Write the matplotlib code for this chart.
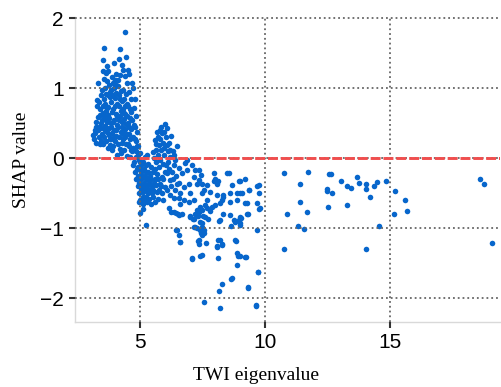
import matplotlib
matplotlib.use("Agg")
import matplotlib.pyplot as plt
import numpy as np

# (TWI eigenvalue, SHAP value) pairs, grouped by region
cluster_low = [
    (3.12, 0.33), (3.15, 0.28), (3.18, 0.40), (3.20, 0.36), (3.22, 0.45), (3.25, 0.52),
    (3.28, 0.84), (3.30, 0.40), (3.31, 0.59), (3.26, 0.75), (3.24, 0.22), (3.35, 0.30),
    (3.38, 0.62), (3.40, 0.70), (3.42, 0.50), (3.44, 0.43), (3.46, 0.98), (3.48, 0.35),
    (3.45, 0.25), (3.40, 0.20), (3.36, 0.80), (3.50, 1.25), (3.47, 0.55), (3.33, 1.07),
    (3.42, 0.90), (3.55, 1.58), (3.53, 1.41), (3.66, 1.32), (3.55, 1.14), (3.58, 1.00),
    (3.62, 0.92), (3.56, 0.85), (3.60, 0.78), (3.64, 0.68), (3.57, 0.60), (3.68, 0.52),
    (3.60, 0.46), (3.52, 0.21), (3.66, 0.38), (3.54, 0.30), (3.70, 0.15), (3.63, 1.22),
    (3.69, 0.72), (3.52, 0.65), (3.59, 0.40), (3.71, 1.25), (3.86, 1.16), (3.75, 1.05),
    (3.80, 0.95), (3.78, 0.88), (3.84, 0.80), (3.72, 0.74), (3.88, 0.66), (3.76, 0.58),
    (3.82, 0.50), (3.74, 0.44), (3.86, 0.36), (3.80, 0.19), (3.78, 0.28), (3.88, 0.12),
    (3.73, 0.62), (3.83, 0.98), (3.85, 0.45), (3.77, 0.33), (3.96, 1.36), (3.92, 1.07),
    (4.02, 1.20), (3.95, 1.00), (4.05, 0.93), (3.98, 0.86), (4.08, 0.78), (3.93, 0.70),
    (4.03, 0.64), (3.97, 0.55), (4.07, 0.48), (3.94, 0.40), (4.04, 0.32), (4.00, 0.25),
    (3.91, 0.17), (4.06, 0.05), (4.00, 1.12), (4.09, 0.60), (3.99, 0.75), (4.20, 1.56),
    (4.17, 1.42), (4.20, 1.19), (4.13, 1.12), (4.26, 1.33), (4.12, 1.03), (4.22, 0.96),
    (4.16, 0.90), (4.28, 0.82), (4.14, 0.75), (4.24, 0.68), (4.18, 0.60), (4.29, 0.52),
    (4.11, 0.45), (4.23, 0.38), (4.15, 0.30), (4.27, 0.22), (4.19, 0.14), (4.25, 0.08),
    (4.21, 0.85), (4.14, 0.55), (4.26, 0.45), (4.40, 1.81), (4.33, 1.26), (4.46, 1.07),
    (4.38, 1.18), (4.32, 0.98), (4.42, 0.92), (4.36, 0.85), (4.47, 0.78), (4.31, 0.70),
    (4.41, 0.63), (4.35, 0.56), (4.45, 0.49), (4.39, 0.42), (4.48, 0.35), (4.33, 0.27),
    (4.43, 0.20), (4.37, 0.12), (4.46, 0.03), (4.44, 1.45), (4.34, 0.40), (4.41, 0.30),
    (4.38, 0.75), (4.51, 1.26), (4.57, 1.20), (4.67, 1.07), (4.55, 0.95), (4.62, 0.85),
    (4.53, 0.75), (4.65, 0.66), (4.58, 0.58), (4.52, 0.50), (4.64, 0.42), (4.56, 0.35),
    (4.61, 0.27), (4.54, 0.18), (4.66, 0.10), (4.59, 0.02), (4.60, 0.70), (4.68, 0.55),
    (4.72, 1.00), (4.80, 0.85), (4.75, 0.72), (4.83, 0.60), (4.74, 0.48), (4.86, 0.38),
    (4.78, 0.28), (4.88, 0.18), (4.82, 0.10), (4.93, 0.17), (4.85, 0.02), (4.76, -0.05),
    (4.90, -0.12), (5.00, 0.07), (4.70, 0.30), (3.35, 0.45), (3.50, 0.75), (3.62, 0.55),
    (3.70, 0.90), (3.90, 0.52), (3.85, 0.28), (4.02, 0.40), (4.10, 0.20), (4.30, 0.35),
    (4.48, 0.60), (4.50, 0.20), (4.62, 0.12), (4.70, 0.15), (4.80, 0.45), (4.84, 0.25),
    (4.92, 0.05), (4.95, -0.02), (3.65, 0.25), (3.95, 0.30), (4.35, 0.65), (4.55, 0.45),
    (4.05, 1.05), (3.90, 0.90), (3.68, 1.10),
]

cluster_mid = [
    (4.72, -0.10), (4.80, -0.20), (4.85, -0.30), (4.90, -0.40), (4.95, -0.50), (4.98, -0.60),
    (5.02, -0.20), (5.05, -0.30), (5.08, -0.42), (5.10, -0.55), (5.12, -0.65), (5.00, -0.05),
    (4.92, -0.25), (4.88, -0.15), (4.96, -0.35), (5.04, -0.45), (5.15, -0.35), (5.18, -0.25),
    (5.20, -0.45), (5.22, -0.55), (5.14, -0.15), (5.25, -0.30), (5.28, -0.40), (5.30, -0.20),
    (5.32, -0.50), (5.35, -0.35), (5.38, -0.25), (5.40, -0.45), (5.42, -0.12), (5.45, -0.30),
    (5.48, -0.40), (5.50, -0.20), (5.06, -0.62), (5.16, -0.58), (4.94, -0.62), (5.26, -0.62),
    (5.36, -0.58), (5.00, -0.78), (5.24, -0.95), (5.10, -0.72), (5.05, -0.10), (5.12, -0.05),
    (5.22, -0.10), (5.33, -0.08), (5.20, 0.02), (5.28, 0.05),
    (5.53, 0.09), (5.60, 0.26), (5.67, 0.38), (5.74, 0.19), (5.87, 0.36), (6.00, 0.49),
    (6.07, 0.44), (6.24, 0.32), (6.07, 0.19), (6.48, 0.17), (5.55, 0.00), (5.62, 0.12),
    (5.70, 0.05), (5.78, 0.28), (5.82, 0.12), (5.90, 0.22), (5.95, 0.05), (6.02, 0.30),
    (6.10, 0.10), (6.15, 0.22), (6.20, 0.02), (6.30, 0.10), (6.35, 0.05), (5.65, -0.05),
    (5.80, -0.02), (5.92, -0.08), (5.58, -0.15), (5.68, -0.22), (5.75, -0.12), (5.86, -0.26),
    (5.80, -0.36), (6.00, -0.41), (6.07, -0.21), (6.27, -0.19), (6.20, -0.31), (6.34, -0.10),
    (6.54, -0.14), (6.67, -0.21), (6.48, -0.36), (6.41, -0.45), (6.20, -0.52), (6.34, -0.57),
    (6.07, -0.45), (5.67, -0.48), (6.14, -0.71), (6.34, -0.76), (6.53, -0.79), (6.61, -0.50),
    (6.54, -0.57), (5.50, -0.55), (5.60, -0.62), (5.72, -0.58), (5.90, -0.60), (5.45, -0.65),
    (5.55, -0.35), (6.12, -0.05), (6.40, -0.02), (5.97, 0.15), (5.72, 0.30), (5.85, 0.45),
    (4.98, -0.15), (5.02, -0.38), (5.08, -0.25), (5.12, -0.48), (5.18, -0.40), (5.24, -0.20),
    (5.30, -0.30), (5.34, -0.45), (5.40, -0.30), (5.46, -0.50), (5.52, -0.45), (5.58, -0.30),
    (5.64, -0.38), (5.70, -0.30), (5.76, -0.45), (5.84, -0.40), (5.92, -0.30), (5.98, -0.20),
    (6.05, -0.10), (6.15, -0.15), (6.25, -0.40), (6.30, -0.30), (6.45, -0.25), (6.55, -0.35),
    (6.60, -0.65), (5.88, -0.50), (5.62, 0.20), (5.80, 0.40), (5.95, 0.38), (6.18, 0.12),
]

cluster_tail = [
    (6.24, -0.76), (6.45, -0.78), (6.57, -0.81), (6.98, -0.84), (7.12, -0.86), (7.30, -0.83),
    (7.18, -0.79), (7.36, -0.76), (7.50, -0.83), (7.58, -0.84), (7.73, -0.87), (7.81, -0.75),
    (7.49, -0.92), (7.46, -0.98), (7.17, -0.98), (7.28, -1.00), (7.38, -1.02), (7.52, -1.03),
    (7.44, -1.07), (7.57, -1.06), (7.49, -1.10), (6.45, -1.03), (6.57, -1.09), (6.61, -1.20),
    (7.33, -1.18), (7.36, -1.23), (7.64, -1.21), (8.17, -0.89), (8.21, -1.17), (8.29, -1.23),
    (8.10, -1.25), (8.64, -0.96), (8.80, -0.91), (8.99, -0.95), (9.02, -0.84), (9.31, -0.80),
    (8.85, -1.18), (8.90, -1.35), (8.93, -1.39), (9.23, -1.41), (7.09, -1.44), (7.41, -1.40),
    (7.46, -1.38), (8.14, -1.42), (8.88, -1.52), (9.71, -1.63), (8.66, -1.73), (8.27, -1.79),
    (8.17, -1.89), (9.31, -1.85), (7.56, -2.05), (8.21, -2.14), (9.65, -2.11), (9.69, -1.03),
    (6.87, -0.02), (6.80, -0.07), (6.87, -0.17), (7.21, -0.17), (7.14, -0.26), (6.94, -0.36),
    (6.74, -0.41), (7.00, -0.50), (6.74, -0.60), (6.94, -0.62), (7.14, -0.60), (7.27, -0.74),
    (7.47, -0.74), (7.61, -0.67), (7.68, -0.60), (7.88, -0.69), (8.01, -0.67), (8.21, -0.64),
    (8.34, -0.55), (7.54, -0.45), (7.47, -0.36), (7.34, -0.31), (7.08, -0.10), (7.34, -0.17),
    (7.44, -0.24), (7.27, -0.36), (7.68, -0.38), (7.94, -0.33), (8.08, -0.36), (8.01, -0.29),
    (7.94, -0.21), (8.14, -0.33), (8.48, -0.21), (8.55, -0.21), (8.95, -0.33), (8.68, -0.38),
    (9.08, -0.50), (9.28, -0.64), (8.88, -0.60), (8.61, -0.50), (8.34, -0.52), (8.08, -0.52),
    (7.81, -0.48), (7.47, -0.50), (7.41, -0.69), (7.68, -0.71), (8.28, -0.60), (8.34, -0.79),
    (8.61, -0.81), (8.75, -0.88), (6.67, -0.79), (7.00, -0.83), (7.14, -0.86), (7.41, -0.91),
    (8.21, -0.88), (8.61, -0.62), (8.88, -0.50), (8.82, -1.17), (8.95, -0.88), (8.68, -1.71),
    (8.28, -1.24), (8.08, -1.26), (8.14, -1.17), (6.59, -1.19), (6.48, -1.02), (7.08, -1.43),
    (7.21, -0.98), (7.34, -1.17), (7.54, -1.02), (9.02, -0.32), (9.20, -0.29), (9.38, -0.45),
    (9.02, -0.49), (9.67, -0.40), (9.75, -0.49), (9.75, -0.38), (9.69, -0.64), (9.82, -0.71),
    (9.22, -0.64), (9.78, -0.72), (9.29, -0.80), (9.04, -0.85), (9.02, -0.93), (9.22, -1.41),
    (9.02, -1.40), (9.74, -1.63), (9.31, -1.84), (9.64, -2.10), (9.35, -0.45),
]

cluster_far = [
    (10.77, -0.21), (11.72, -0.19), (11.39, -0.36), (12.56, -0.22), (12.66, -0.23),
    (12.47, -0.44), (12.48, -0.46), (12.67, -0.50), (13.06, -0.33), (13.27, -0.40),
    (13.46, -0.43), (13.69, -0.26), (13.76, -0.35), (14.04, -0.36), (14.07, -0.44),
    (14.23, -0.55), (14.37, -0.39), (14.49, -0.34), (14.85, -0.32), (15.21, -0.46),
    (15.63, -0.60), (15.68, -0.75), (18.61, -0.29), (18.79, -0.36), (19.08, -1.21),
    (13.28, -0.66), (12.51, -0.70), (11.40, -0.63), (11.68, -0.77), (10.89, -0.80),
    (11.32, -0.96), (11.56, -1.01), (10.76, -1.30), (15.17, -0.79), (14.57, -0.97),
    (14.07, -1.30),
]

X_TICKS = [5, 10, 15]
Y_TICKS = [-2, -1, 0, 1, 2]
BLUE = "#0766cc"
RED = "#f04e4e"

points = np.array(cluster_low + cluster_mid + cluster_tail + cluster_far)
twi, shap = points[:, 0], points[:, 1]

fig = plt.figure(figsize=(5.02, 3.87), dpi=100)
ax = fig.add_axes([0.1494, 0.1687, 0.8466, 0.7876])

ax.scatter(twi, shap, s=16, color=BLUE, linewidths=0, zorder=1)
ax.axhline(0, color=RED, linewidth=2.1, linestyle=(0, (3.4, 1.0)), zorder=3)

ax.set_xlim(2.39, 19.42)
ax.set_ylim(-2.334, 2.02)
ax.set_xticks(X_TICKS)
ax.set_yticks(Y_TICKS)
ax.set_yticklabels([str(v).replace("-", "\u2212") for v in Y_TICKS])

ax.set_axisbelow(False)
ax.grid(True, linestyle=":", linewidth=1.3, color="#666666", zorder=2)

for side in ("top", "right"):
    ax.spines[side].set_visible(False)
for side in ("left", "bottom"):
    ax.spines[side].set_color("#d9d9d9")
    ax.spines[side].set_linewidth(1.0)

ax.tick_params(axis="both", length=4, width=1.5, color="#333333",
               labelsize=15, pad=4)
for lab in ax.get_xticklabels() + ax.get_yticklabels():
    lab.set_family("Liberation Sans")

ax.set_xlabel("TWI eigenvalue", family="Liberation Serif", fontsize=14)
ax.set_ylabel("SHAP value", family="Liberation Serif", fontsize=14)
ax.xaxis.set_label_coords(0.427, -0.15)
ax.yaxis.set_label_coords(-0.105, 0.53)

fig.savefig("out.png", dpi=100)
